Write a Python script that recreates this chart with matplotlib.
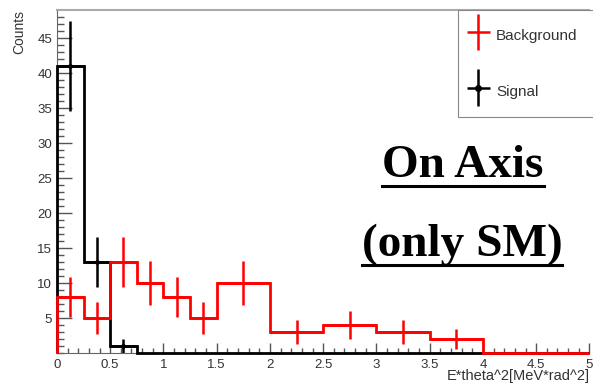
import numpy as np
import matplotlib.pyplot as plt
from matplotlib.lines import Line2D
from matplotlib.container import ErrorbarContainer
from matplotlib.legend_handler import HandlerErrorbar

# histogram binning and counts
edges = [0, 0.25, 0.5, 0.75, 1.0, 1.25, 1.5, 2.0, 2.5, 3.0, 3.5, 4.0, 4.5, 5.0]
background = [8, 5, 13, 10, 8, 5, 10, 3, 4, 3, 2, 0, 0]
signal = [41, 13, 1, 0, 0, 0, 0, 0, 0, 0, 0, 0, 0]

xticks = [0, 0.5, 1, 1.5, 2, 2.5, 3, 3.5, 4, 4.5, 5]
xticklabels = ['0', '0.5', '1', '1.5', '2', '2.5', '3', '3.5', '4', '4.5', '5']
yticks = [5, 10, 15, 20, 25, 30, 35, 40, 45]

plt.rcParams['font.family'] = ['Liberation Sans', 'DejaVu Sans']

fig = plt.figure(figsize=(5.93, 3.85), dpi=100)
ax = fig.add_axes([0.096, 0.083, 0.898, 0.891])

e = np.array(edges)
centers = (e[:-1] + e[1:]) / 2
half = (e[1:] - e[:-1]) / 2
bkg = np.array(background, dtype=float)
sig = np.array(signal, dtype=float)

# step outlines, background on top
ax.stairs(sig, e, color='black', lw=2, clip_on=False, zorder=3)
ax.stairs(bkg, e, color='red', lw=2, clip_on=False, zorder=3.1)

# poisson errors on filled bins
m = sig > 0
sig_eb = ax.errorbar(centers[m], sig[m], xerr=half[m], yerr=np.sqrt(sig[m]),
                     fmt='o', ms=2.5, color='black', ecolor='black',
                     elinewidth=1.8, capsize=0, label='Signal', zorder=3)
m = bkg > 0
bkg_eb = ax.errorbar(centers[m], bkg[m], xerr=half[m], yerr=np.sqrt(bkg[m]),
                     fmt='none', ecolor='red', elinewidth=1.8, capsize=0,
                     label='Background', zorder=3.1)

ax.set_xlim(0, 5)
ax.set_ylim(0, 49)
ax.set_xticks(xticks)
ax.set_xticklabels(xticklabels)
ax.set_xticks(np.arange(0, 5.01, 0.1), minor=True)
ax.set_yticks(yticks)
ax.set_yticks(np.arange(0, 49, 1), minor=True)

ax.tick_params(axis='both', which='both', direction='in', colors='#555555',
               labelcolor='#333333', labelsize=9.5, top=False, right=False)
ax.tick_params(axis='y', which='major', length=10.5, width=1)
ax.tick_params(axis='y', which='minor', length=5, width=1)
ax.tick_params(axis='x', which='major', length=7, width=1, pad=4)
ax.tick_params(axis='x', which='minor', length=3.5, width=1)

for side in ['left', 'bottom']:
    ax.spines[side].set_color('#666666')
ax.spines['top'].set_color('#aaaaaa')
ax.spines['top'].set_linewidth(1.5)
ax.spines['right'].set_visible(False)

ax.set_ylabel('Counts', loc='top', fontsize=10, color='#333333', labelpad=8)
ax.set_xlabel('E*theta^2[MeV*rad^2]', loc='right', fontsize=10.5,
              color='#333333', labelpad=-1)

handler = HandlerErrorbar(xerr_size=0.75, yerr_size=1.2)
leg = ax.legend(handles=[bkg_eb, sig_eb], loc='upper left',
                bbox_to_anchor=(0.772, 0.0, 0.25, 0.974),
                bbox_transform=fig.transFigure, mode='expand',
                borderaxespad=0, fontsize=11, handlelength=0.9,
                handleheight=2.0, labelspacing=2.1, borderpad=0.9,
                handletextpad=0.7, fancybox=False, framealpha=1,
                edgecolor='#888888', markerscale=1.6,
                handler_map={ErrorbarContainer: handler})
leg.get_frame().set_linewidth(0.8)
for t in leg.get_texts():
    t.set_color('#333333')

# bold underlined notes
notes = [('On Axis', 0.781, 0.540), ('(only SM)', 0.779, 0.335)]
texts = []
for s, x, y in notes:
    texts.append(fig.text(x, y, s, ha='center', va='baseline',
                          family='Liberation Serif', weight='bold',
                          fontsize=34, color='black'))

fig.canvas.draw()
r = fig.canvas.get_renderer()
for t in texts:
    bb = t.get_window_extent(r).transformed(fig.transFigure.inverted())
    yl = bb.y0 + 1.0 / 385
    fig.add_artist(Line2D([bb.x0, bb.x1], [yl, yl], transform=fig.transFigure,
                          color='black', lw=2.2))

fig.savefig('out.png', dpi=100)
